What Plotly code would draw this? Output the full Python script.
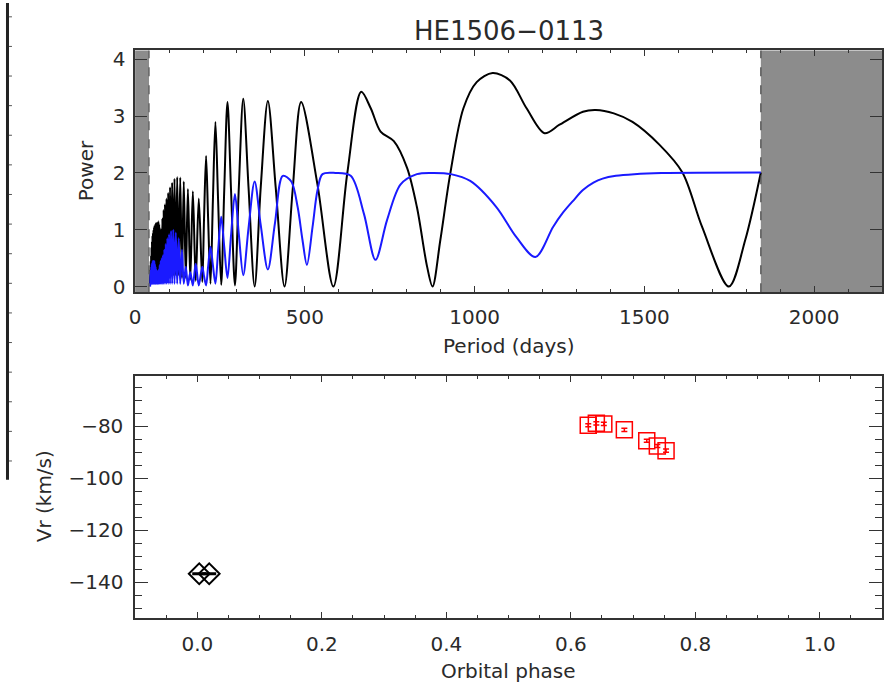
import plotly.graph_objects as go

# ---------------- data ----------------
black_period = [44.0, 44.8, 45.3, 45.9, 46.5, 47.1, 47.7, 48.4, 49.0, 49.7, 50.4, 51.1, 51.8, 52.5,
                53.3, 54.1, 54.9, 55.8, 56.6, 57.5, 58.4, 59.4, 60.4, 61.4, 62.4, 63.5, 64.6, 65.8,
                67.0, 68.3, 69.6, 70.9, 72.3, 73.8, 75.3, 76.9, 78.6, 80.3, 82.1, 84.0, 86.0, 88.0,
                90.2, 92.5, 94.9, 97.4, 100.1, 102.9, 105.9, 109.0, 112.4, 116.0, 119.8, 123.9,
                128.3, 132.9, 138.0, 143.3, 149.2, 155.5, 162.5, 170.0, 178.5, 187.5, 197.8,
                203.0, 209.0, 215.0, 222.0, 229.0, 236.5, 244.5, 253.5, 262.5, 272.0, 282.5,
                294.0, 305.5, 318.5, 334.0, 352.0, 370.0, 391.0, 414.0, 440.0, 464.0,
                489.0, 537.0, 584.0, 625.0, 666.0, 694.0, 723.0, 762.0, 801.0, 830.0, 860.0,
                876.0, 899.0, 928.0, 967.0, 1006.0, 1053.0, 1104.0, 1153.0, 1206.0, 1250.0,
                1319.0, 1357.0, 1410.0, 1465.0, 1544.0, 1612.0, 1670.0, 1749.0, 1797.0, 1843.0]
black_power = [0.05, 0.3, 0.05, 0.45, 0.08, 0.55, 0.1, 0.7, 0.1, 0.8, 0.12, 0.9, 0.12, 0.95,
               0.15, 1.0, 0.15, 1.05, 0.18, 1.08, 0.2, 1.1, 0.2, 1.12, 0.22, 1.12, 0.25, 1.13,
               0.25, 1.15, 0.3, 1.1, 0.3, 1.02, 0.3, 1.0, 0.3, 1.2, 0.3, 1.35, 0.3, 1.45,
               0.3, 1.55, 0.3, 1.65, 0.25, 1.75, 0.25, 1.83, 0.2, 1.9, 0.2, 1.93,
               0.2, 1.92, 0.15, 1.85, 0.15, 1.72, 0.12, 1.68, 0.1, 1.55, 0.08,
               1.2, 2.30, 1.2, 0.05, 1.5, 2.90, 1.5, 0.03, 1.7, 3.25, 1.7,
               0.02, 1.75, 3.31, 1.75, 0.0, 1.75, 3.27, 1.75, 0.0, 1.7,
               3.25, 1.8, 0.0, 2.0, 3.43, 3.14, 2.73, 2.56, 2.09, 1.40, 0.35,
               0.0, 0.82, 1.98, 3.14, 3.60, 3.76, 3.63, 3.14, 2.70, 2.85,
               3.08, 3.11, 3.05, 2.90, 2.50, 2.01, 1.05, 0.0, 0.82, 2.01]

blue_period = [44.0, 44.8, 45.3, 45.9, 46.5, 47.1, 47.7, 48.4, 49.0, 49.7, 50.4, 51.1, 51.8, 52.5,
               53.3, 54.1, 54.9, 55.8, 56.6, 57.5, 58.4, 59.4, 60.4, 61.4, 62.4, 63.5, 64.6, 65.8,
               67.0, 68.3, 69.6, 70.9, 72.3, 73.8, 75.3, 76.9, 78.6, 80.3, 82.1, 84.0, 86.0, 88.0,
               90.2, 92.5, 94.9, 97.4, 100.1, 102.9, 105.9, 109.0, 112.4, 116.0, 119.8, 123.9,
               128.3, 132.9, 138.0, 143.3, 149.2, 155.5, 162.5, 170.0, 178.5, 187.5, 197.8,
               203.0, 209.0, 215.0, 222.0, 229.0, 236.5, 244.5, 253.5, 262.5, 272.0, 282.5,
               294.0, 305.5, 318.5, 334.0, 352.0, 370.0, 391.0, 412.0, 435.0, 460.0,
               478.7, 493.0, 506.0, 522.6, 537.0, 552.0, 590.0, 635.0, 674.0, 708.0, 742.0,
               782.0, 830.0, 880.0, 930.0, 987.0, 1064.0, 1123.0, 1179.0, 1231.0, 1260.0,
               1290.0, 1319.0, 1350.0, 1377.0, 1416.0, 1470.0, 1550.0, 1843.0]
blue_power = [0.0, 0.05, 0.25, 0.05, 0.3, 0.05, 0.35, 0.05, 0.4, 0.05, 0.42, 0.05, 0.45, 0.05,
              0.45, 0.05, 0.45, 0.05, 0.45, 0.05, 0.4, 0.05, 0.35, 0.05, 0.3, 0.05, 0.28, 0.05,
              0.25, 0.05, 0.3, 0.05, 0.38, 0.05, 0.45, 0.05, 0.5, 0.05, 0.55, 0.05, 0.65, 0.05,
              0.75, 0.05, 0.85, 0.05, 0.92, 0.05, 0.98, 0.05, 1.0, 0.05, 0.95, 0.05,
              0.85, 0.05, 0.65, 0.05, 0.35, 0.02, 0.25, 0.02, 0.4, 0.02, 0.35,
              0.18, 0.02, 0.35, 0.70, 0.38, 0.05, 0.64, 1.23, 0.70, 0.15, 0.90,
              1.63, 0.92, 0.2, 1.03, 1.85, 1.08, 0.3, 1.12, 1.95, 1.85,
              1.40, 0.82, 0.38, 1.05, 1.69, 1.98, 2.0, 1.95, 1.28, 0.47, 1.17,
              1.80, 1.98, 2.0, 1.98, 1.86, 1.40, 0.87, 0.52, 1.05, 1.30,
              1.51, 1.70, 1.83, 1.90, 1.95, 1.98, 2.0, 2.01]

valid_range = [41.0, 1843.0]  # periods bounding the shaded (excluded) zones

red_phase = [0.628, 0.641, 0.653, 0.686, 0.722, 0.739, 0.753]
red_vr = [-79.5, -78.8, -79.0, -81.3, -85.5, -87.5, -89.3]
black_phase = [0.003, 0.019]
black_vr = [-136.7, -136.7]

x1_ticks = [0, 500, 1000, 1500, 2000]
y1_ticks = [0, 1, 2, 3, 4]
x2_ticks = [0.0, 0.2, 0.4, 0.6, 0.8, 1.0]
x2_labels = ["0.0", "0.2", "0.4", "0.6", "0.8", "1.0"]
y2_ticks = [-80, -100, -120, -140]

# ---------------- figure ----------------
W, H = 888, 694
FONT = "DejaVu Sans"
AX = "#333333"
TXT = "#2a2a2a"

def px(x):
    return x / W

def py(y):
    return 1 - y / H

fig = go.Figure()

fig.add_trace(go.Scatter(x=black_period, y=black_power, mode="lines",
                         line=dict(color="black", width=2, shape="spline", smoothing=0.9),
                         xaxis="x", yaxis="y", showlegend=False, hoverinfo="skip"))
fig.add_trace(go.Scatter(x=blue_period, y=blue_power, mode="lines",
                         line=dict(color="#1a1aff", width=2, shape="spline", smoothing=0.9),
                         xaxis="x", yaxis="y", showlegend=False, hoverinfo="skip"))

fig.add_trace(go.Scatter(x=red_phase, y=red_vr, mode="markers",
                         marker=dict(symbol="square-open", size=16, color="red",
                                     line=dict(width=1.5, color="red")),
                         error_y=dict(type="data", array=[0.6] * len(red_vr), color="red",
                                      thickness=1.5, width=3),
                         xaxis="x2", yaxis="y2", showlegend=False, hoverinfo="skip"))
fig.add_trace(go.Scatter(x=black_phase, y=black_vr, mode="markers",
                         marker=dict(symbol="diamond-open", size=16, color="black",
                                     line=dict(width=2, color="black")),
                         error_y=dict(type="data", array=[0.3] * len(black_vr), color="black",
                                      thickness=1.5, width=7),
                         xaxis="x2", yaxis="y2", showlegend=False, hoverinfo="skip"))

# shaded excluded regions + dashed limits
shapes = [
    dict(type="rect", xref="x", yref="y domain", x0=0, x1=valid_range[0], y0=0, y1=1,
         fillcolor="#8c8c8c", line=dict(width=0), layer="below"),
    dict(type="rect", xref="x", yref="y domain", x0=valid_range[1], x1=2200, y0=0, y1=1,
         fillcolor="#8c8c8c", line=dict(width=0), layer="below"),
    dict(type="line", xref="x", yref="y domain", x0=valid_range[0], x1=valid_range[0], y0=0, y1=1,
         line=dict(color="#555555", width=1.2, dash="dash")),
    dict(type="line", xref="x", yref="y domain", x0=valid_range[1], x1=valid_range[1], y0=0, y1=1,
         line=dict(color="#444444", width=1.2, dash="dash")),
    # dark edge of a neighbouring panel at far left
    dict(type="line", xref="paper", yref="paper", x0=px(1.5), x1=px(1.5), y0=py(483), y1=1,
         line=dict(color="#222222", width=3)),
]
for k in range(16):
    yy = 14 + 30 * k
    shapes.append(dict(type="line", xref="paper", yref="paper", x0=px(3), x1=px(6),
                       y0=py(yy), y1=py(yy), line=dict(color="#555555", width=1)))
fig.update_layout(shapes=shapes)

common = dict(showgrid=False, zeroline=False, showline=True, linecolor=AX, linewidth=1.5,
              mirror="ticks", ticks="inside", tickcolor=AX, tickwidth=1.2,
              tickfont=dict(family=FONT, size=20, color=TXT))

fig.update_layout(
    width=W, height=H,
    margin=dict(l=0, r=0, t=0, b=0),
    paper_bgcolor="white", plot_bgcolor="white",
    xaxis=dict(domain=[px(130), px(882)], range=[0, 2200], tickvals=x1_ticks,
               ticklen=6, minor=dict(dtick=100, ticklen=3, ticks="inside", tickcolor=AX),
               ticklabelstandoff=6, anchor="y", **common),
    yaxis=dict(domain=[py(293), py(48)], range=[-0.1, 4.16], tickvals=y1_ticks,
               ticklen=12, ticklabelstandoff=4, anchor="x", **common),
    xaxis2=dict(domain=[px(130), px(882)], range=[-0.1, 1.1], tickvals=x2_ticks,
                ticktext=x2_labels, ticklen=6,
                minor=dict(dtick=0.05, ticklen=3, ticks="inside", tickcolor=AX),
                ticklabelstandoff=7, anchor="y2", **common),
    yaxis2=dict(domain=[py(623), py(378)], range=[-153.7, -60.6], tickvals=y2_ticks,
                ticklen=13, minor=dict(dtick=5, ticklen=7, ticks="inside", tickcolor=AX),
                ticklabelstandoff=6, anchor="x2", **common),
    annotations=[
        dict(text="HE1506\u22120113", x=px(506), y=py(28), xref="paper", yref="paper",
             showarrow=False, xanchor="center", yanchor="middle",
             font=dict(family=FONT, size=26, color=TXT)),
        dict(text="Power", x=px(80), y=py(170), xref="paper", yref="paper", textangle=-90,
             showarrow=False, xanchor="center", yanchor="middle",
             font=dict(family=FONT, size=20, color=TXT)),
        dict(text="Period (days)", x=px(506), y=py(347), xref="paper", yref="paper",
             showarrow=False, xanchor="center", yanchor="middle",
             font=dict(family=FONT, size=20, color=TXT)),
        dict(text="Vr (km/s)", x=px(38), y=py(500), xref="paper", yref="paper", textangle=-90,
             showarrow=False, xanchor="center", yanchor="middle",
             font=dict(family=FONT, size=20, color=TXT)),
        dict(text="Orbital phase", x=px(506), y=py(677), xref="paper", yref="paper",
             showarrow=False, xanchor="center", yanchor="middle",
             font=dict(family=FONT, size=20, color=TXT)),
    ],
)

fig.write_html("out.html")
